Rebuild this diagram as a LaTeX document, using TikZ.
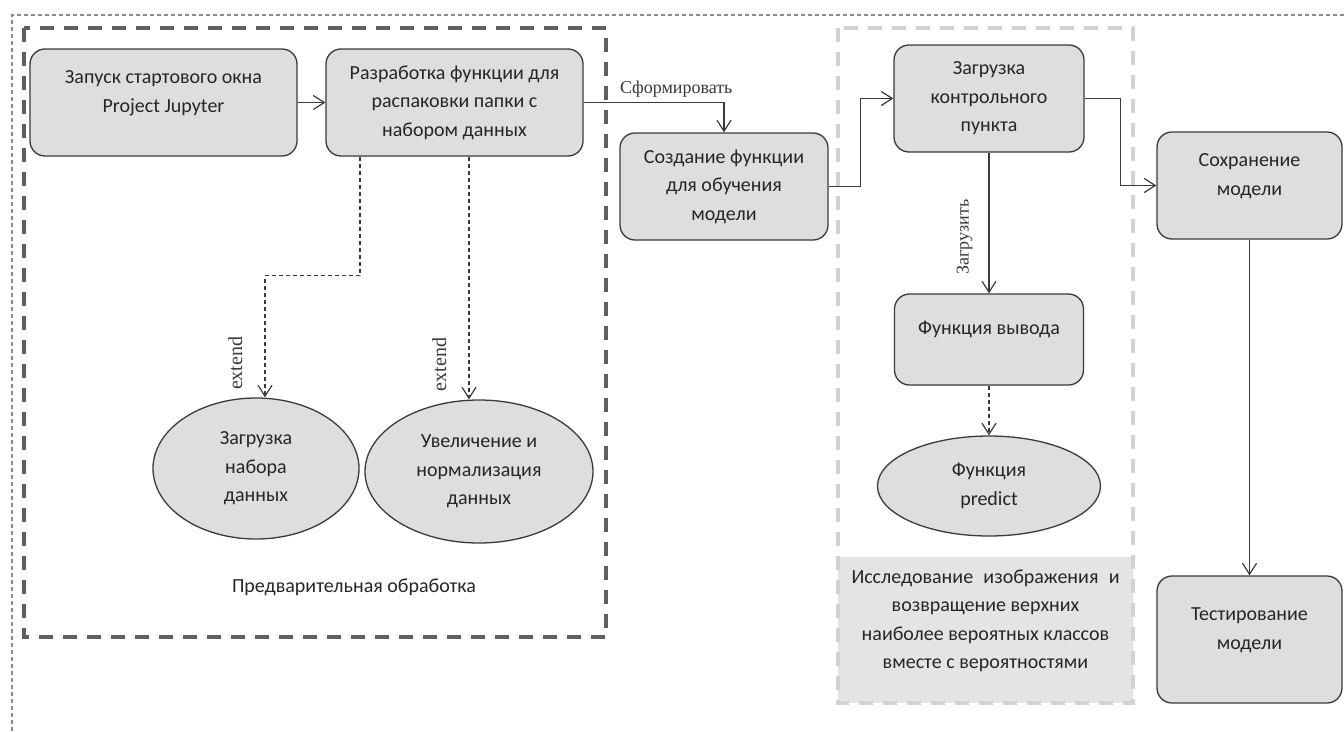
\documentclass[tikz,border=0pt]{standalone}
\usepackage{fontspec}
\setmainfont{Carlito}
\newfontfamily\labelfont{Liberation Serif}
\usetikzlibrary{arrows.meta,shapes.geometric}
\definecolor{boxfill}{HTML}{DEDEDE}
\definecolor{edge}{HTML}{3A3A3A}
\definecolor{frame}{HTML}{5F5F5F}
\definecolor{pale}{HTML}{D2D2D2}
\definecolor{notefill}{HTML}{E4E4E4}
\definecolor{outer}{HTML}{8A8A8A}

\tikzset{
  box/.style={draw=edge, fill=boxfill, rounded corners=15pt, line width=1.3pt, align=center, inner sep=0pt},
  oval/.style={ellipse, draw=edge, fill=boxfill, line width=1.3pt, align=center, inner sep=0pt},
  flow/.style={draw=edge, line width=1.2pt, -{Straight Barb[length=11pt,width=14pt]}},
  dep/.style={flow, dash pattern=on 4pt off 3pt},
  tag/.style={font=\labelfont\fontsize{18}{20}\selectfont, text=edge}
}

\begin{document}
\begin{tikzpicture}[x=1pt,y=-1pt,font=\fontsize{20}{28.5}\selectfont,text=black!85]
  \useasboundingbox (0,0) rectangle (1344,731);

  % frames
  \draw[outer, line width=1.2pt, dash pattern=on 4pt off 3pt] (12,731) -- (12,15) -- (1344,15);
  \draw[frame, line width=3.5pt, dash pattern=on 14pt off 10pt] (24,28) rectangle (606,637);
  \fill[notefill] (838,557) rectangle (1133,703);
  \draw[pale, line width=3.5pt, dash pattern=on 14pt off 10pt] (838,28) rectangle (1133,703);

  \node[box, minimum width=267pt, minimum height=107pt, text depth=22pt] (start) at (163.5,102.5) {Запуск стартового окна\\Project Jupyter};
  \node[box, minimum width=257pt, minimum height=107pt] (unpack) at (454.5,102.5) {Разработка функции для\\распаковки папки с\\набором данных};
  \node[box, minimum width=208pt, minimum height=107pt] (train) at (724,186.5) {Создание функции\\для обучения\\модели};
  \node[box, minimum width=190pt, minimum height=107pt] (ckpt) at (989,98.5) {Загрузка\\контрольного\\пункта};
  \node[box, minimum width=185pt, minimum height=107pt, text depth=22pt] (save) at (1249.5,185.5) {Сохранение\\модели};
  \node[box, minimum width=185pt, minimum height=127pt, text depth=22pt] (test) at (1249.5,639.5) {Тестирование\\модели};
  \node[box, minimum width=189pt, minimum height=91pt, text depth=24pt] (infer) at (989,339.5) {Функция вывода};

  \node[oval, minimum width=206pt, minimum height=141pt] (load) at (256,468.5) {Загрузка\\набора\\данных};
  \node[oval, minimum width=228pt, minimum height=143pt] (aug) at (479,471.5) {Увеличение и\\нормализация\\данных};
  \node[oval, minimum width=223pt, minimum height=100pt] (predict) at (989,486) {Функция\\predict};

  \node (pre) at (354,587) {Предварительная обработка};
  \node[align=center] (note) at (985.5,621) {\makebox[268pt][s]{Исследование изображения и}\\возвращение верхних\\наиболее вероятных классов\\вместе с вероятностями};

  \draw[flow] (start) -- (unpack);
  \draw[flow] (unpack.east) -| (train.north) node[tag, pos=.33, above, inner sep=5pt] {Сформировать};
  \draw[flow] (train.east) -- ++(32,0) |- (ckpt.west);
  \draw[flow] (ckpt.east) -- ++(36,0) |- (save.west);
  \draw[flow] (ckpt) -- (infer) node[tag, pos=.6, rotate=90, anchor=south, inner sep=16pt] {Загрузить};
  \draw[flow] (save) -- (test);
  \draw[dep] (infer) -- (predict);
  \draw[dep] ([xshift=-94.5pt]unpack.south) -- ++(0,119) -| ([xshift=9pt]load.north)
    node[tag, pos=.86, rotate=90, anchor=south, inner sep=22pt, font=\labelfont\fontsize{20}{22}\selectfont] {extend};
  \draw[dep] ([xshift=14.5pt]unpack.south) -- ([xshift=14.5pt]unpack.south |- aug.north)
    node[tag, pos=.857, rotate=90, anchor=south, inner sep=22pt, font=\labelfont\fontsize{20}{22}\selectfont] {extend};
\end{tikzpicture}
\end{document}
